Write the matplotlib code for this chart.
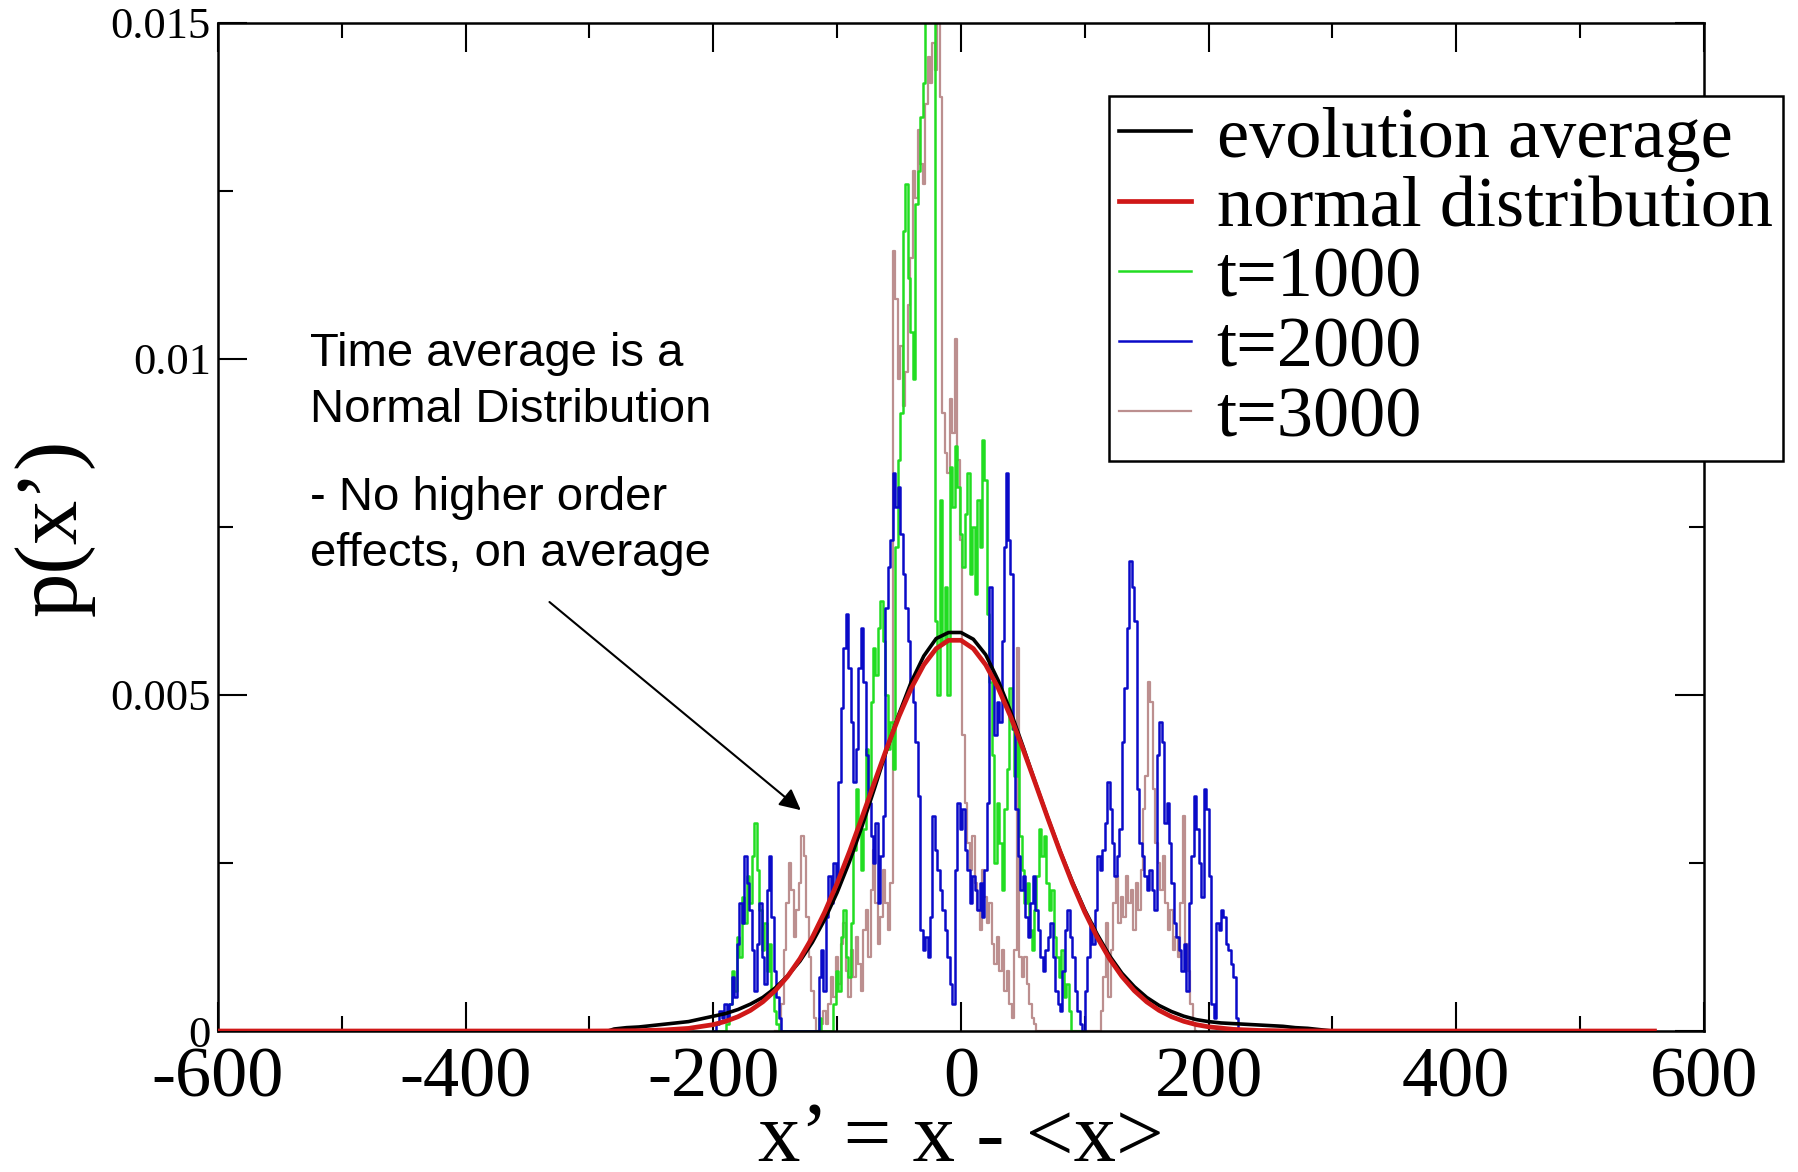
import matplotlib
matplotlib.use('Agg')
import matplotlib.pyplot as plt
from matplotlib.ticker import MultipleLocator

plt.rcParams['axes.unicode_minus'] = False
plt.rcParams['font.family'] = ['Liberation Serif', 'DejaVu Serif']

# ---------------- data ----------------
x_ticks = [-600, -400, -200, 0, 200, 400, 600]
y_ticks = [0, 0.005, 0.01, 0.015]
y_tick_labels = ['0', '0.005', '0.01', '0.015']

avg_x = [-600, -400, -300, -285, -280, -270, -260, -250, -240, -230,
         -220, -210, -200, -190, -180, -170, -160, -150, -140, -130,
         -120, -110, -100, -90, -80, -70, -60, -50, -40, -30,
         -20, -10, 0, 10, 20, 30, 40, 50, 60, 70,
         80, 90, 100, 110, 120, 130, 140, 150, 160, 170,
         180, 190, 200, 210, 220, 230, 240, 250, 260, 270,
         280, 290, 300, 400, 560]
avg_y = [0, 0, 0, 0, 3e-5, 5e-5, 6e-5, 8e-5, 1e-4, 1.2e-4,
         1.4e-4, 1.8e-4, 2.2e-4, 2.6e-4, 3.2e-4, 4e-4, 5e-4, 6.4e-4, 8.2e-4, 1.04e-3,
         1.32e-3, 1.66e-3, 2.06e-3, 2.52e-3, 3.04e-3, 3.6e-3, 4.18e-3, 4.72e-3, 5.2e-3, 5.58e-3,
         5.84e-3, 5.93e-3, 5.93e-3, 5.83e-3, 5.6e-3, 5.22e-3, 4.76e-3, 4.24e-3, 3.7e-3, 3.18e-3,
         2.68e-3, 2.22e-3, 1.8e-3, 1.44e-3, 1.12e-3, 8.6e-4, 6.6e-4, 5e-4, 3.8e-4, 2.9e-4,
         2.2e-4, 1.7e-4, 1.4e-4, 1.2e-4, 1.1e-4, 1e-4, 9e-5, 8e-5, 7e-5, 5e-5,
         4e-5, 2e-5, 0, 0, 0]

norm_x = [-600, -400, -300, -280, -260, -240, -220, -200,
          -190, -180, -170, -160, -150, -140, -130, -120, -110, -100,
          -90, -80, -70, -60, -50, -40, -30, -20, -10,
          0, 10, 20, 30, 40, 50, 60, 70, 80, 90,
          100, 110, 120, 130, 140, 150, 160, 170, 180, 190,
          200, 220, 240, 260, 280, 300, 400, 560]
norm_y = [0, 0, 0, 1.6e-6, 5.1e-6, 1.5e-5, 3.9e-5, 9.5e-5,
          1.44e-4, 2.13e-4, 3.07e-4, 4.34e-4, 6e-4, 8.12e-4, 1.076e-3, 1.395e-3, 1.77e-3, 2.197e-3,
          2.669e-3, 3.173e-3, 3.692e-3, 4.203e-3, 4.683e-3, 5.107e-3, 5.449e-3, 5.69e-3, 5.814e-3,
          5.814e-3, 5.69e-3, 5.449e-3, 5.107e-3, 4.683e-3, 4.203e-3, 3.692e-3, 3.173e-3, 2.669e-3, 2.197e-3,
          1.77e-3, 1.395e-3, 1.076e-3, 8.12e-4, 6e-4, 4.34e-4, 3.07e-4, 2.13e-4, 1.44e-4, 9.5e-5,
          6.2e-5, 2.45e-5, 8.9e-6, 2.9e-6, 1e-6, 0, 0, 0]

t1000_x = [-200, -192, -188, -186, -184, -182, -180, -178, -176, -174,
           -172, -170, -168, -166, -164, -162, -160, -158, -156, -154,
           -152, -150, -148, -146, -116, -114, -112, -104, -102, -100,
           -98, -96, -94, -92, -90, -88, -86, -84, -82, -80,
           -78, -76, -74, -72, -70, -68, -66, -64, -62, -60,
           -58, -56, -54, -52, -50, -48, -46, -44, -42, -40,
           -38, -36, -34, -32, -30, -28, -26, -24, -22, -20,
           -18, -16, -14, -12, -10, -8, -6, -4, -2, 0,
           2, 4, 6, 8, 10, 12, 14, 16, 18, 20,
           22, 24, 26, 28, 30, 32, 34, 36, 38, 40,
           42, 44, 46, 48, 50, 52, 54, 56, 58, 60,
           62, 64, 66, 68, 70, 72, 74, 76, 78, 80,
           82, 84, 86, 88, 90, 100]
t1000_y = [0, 0, 0.0001, 0.0004, 0.0009, 0.0006, 0.0014, 0.0011, 0.002, 0.0016,
           0.0023, 0.0019, 0.0026, 0.0031, 0.0024, 0.0018, 0.0012, 0.0016, 0.0009, 0.0013,
           0.0006, 0.0003, 0.0001, 0, 0, 0.0002, 0, 0, 0.0004, 0.0009,
           0.0006, 0.0014, 0.0018, 0.0011, 0.0008, 0.0016, 0.0027, 0.0036, 0.0031, 0.0024,
           0.003, 0.0042, 0.0036, 0.0049, 0.0057, 0.0053, 0.006, 0.0064, 0.0058, 0.005,
           0.0042, 0.0046, 0.0039, 0.0072, 0.0085, 0.0092, 0.0119, 0.0126, 0.0112, 0.0104,
           0.0097, 0.0123, 0.0128, 0.0136, 0.0141, 0.0158, 0.0165, 0.016, 0.0152, 0.0061,
           0.005, 0.0079, 0.0058, 0.0066, 0.005, 0.0084, 0.0078, 0.0087, 0.0081, 0.0074,
           0.0069, 0.0077, 0.0083, 0.0068, 0.0075, 0.0065, 0.0079, 0.0072, 0.0088, 0.0082,
           0.0062, 0.0052, 0.0041, 0.0025, 0.0034, 0.0028, 0.0021, 0.0033, 0.0039, 0.0051,
           0.0045, 0.0038, 0.0043, 0.0029, 0.0024, 0.0019, 0.0022, 0.0015, 0.0012, 0.0018,
           0.0023, 0.003, 0.0026, 0.0029, 0.0022, 0.0018, 0.0021, 0.0014, 0.0011, 0.0008,
           0.0012, 0.0005, 0.0007, 0.0003, 0, 0]

t2000_x = [-200, -196, -194, -192, -190, -188, -186, -184, -182, -180,
           -178, -176, -174, -172, -170, -168, -166, -164, -162, -160,
           -158, -156, -154, -152, -150, -148, -146, -144, -116, -114,
           -112, -110, -108, -106, -104, -102, -100, -98, -96, -94,
           -92, -90, -88, -86, -84, -82, -80, -78, -76, -74,
           -72, -70, -68, -66, -64, -62, -60, -58, -56, -54,
           -52, -50, -48, -46, -44, -42, -40, -38, -36, -34,
           -32, -30, -28, -26, -24, -22, -20, -18, -16, -14,
           -12, -10, -8, -6, -4, -2, 0, 2, 4, 6,
           8, 10, 12, 14, 16, 18, 20, 22, 24, 26,
           28, 30, 32, 34, 36, 37, 39, 41, 43, 45,
           47, 49, 51, 53, 55, 57, 59, 61, 63, 65,
           67, 69, 71, 73, 75, 77, 79, 81, 83, 85,
           87, 89, 91, 93, 95, 97, 99, 101, 103, 105,
           107, 109, 111, 113, 115, 117, 119, 121, 123, 125,
           127, 129, 131, 133, 135, 137, 139, 141, 143, 145,
           147, 149, 151, 153, 155, 157, 159, 161, 163, 165,
           167, 169, 171, 173, 175, 177, 179, 181, 183, 185,
           187, 189, 191, 193, 195, 197, 199, 201, 203, 205,
           207, 209, 211, 213, 215, 217, 219, 221, 223, 225,
           230]
t2000_y = [0, 0.0001, 0.0003, 0.0002, 0.0004, 0.0002, 0.0004, 0.0008, 0.0005, 0.0013,
           0.0019, 0.0016, 0.0026, 0.0022, 0.0018, 0.0012, 0.0006, 0.0013, 0.0019, 0.0011,
           0.0007, 0.0021, 0.0026, 0.0017, 0.0009, 0.0005, 0.0002, 0, 0, 0.0008,
           0.0012, 0.0006, 0.0017, 0.0023, 0.0019, 0.0025, 0.0022, 0.0037, 0.0048, 0.0057,
           0.0062, 0.0054, 0.0046, 0.0037, 0.0042, 0.0054, 0.006, 0.0052, 0.0041, 0.0034,
           0.0029, 0.0025, 0.0031, 0.0019, 0.0026, 0.0032, 0.0063, 0.0069, 0.0073, 0.0083,
           0.0078, 0.0081, 0.0074, 0.0068, 0.0063, 0.0058, 0.0052, 0.0049, 0.0043, 0.0035,
           0.0015, 0.0012, 0.0014, 0.0011, 0.0017, 0.0032, 0.0027, 0.0024, 0.0021, 0.0018,
           0.0015, 0.0011, 0.0007, 0.0004, 0.0024, 0.0034, 0.003, 0.0033, 0.0027, 0.0024,
           0.0019, 0.0023, 0.0021, 0.0018, 0.0022, 0.0017, 0.0024, 0.0034, 0.0066, 0.0053,
           0.0044, 0.0049, 0.0046, 0.0058, 0.0072, 0.0083, 0.0073, 0.0068, 0.0045, 0.0033,
           0.0026, 0.0021, 0.0023, 0.0017, 0.0014, 0.0019, 0.0023, 0.0018, 0.0015, 0.0011,
           0.0009, 0.0012, 0.0014, 0.0016, 0.0011, 0.0006, 0.0004, 0.0003, 0.0009, 0.0015,
           0.0018, 0.0014, 0.0011, 0.0006, 0.0003, 0.0001, 0, 0.0006, 0.0011, 0.0016,
           0.0013, 0.0018, 0.0026, 0.0024, 0.0027, 0.0031, 0.0037, 0.0033, 0.0028, 0.0023,
           0.0026, 0.003, 0.0043, 0.0051, 0.006, 0.007, 0.0066, 0.0061, 0.0036, 0.0028,
           0.0026, 0.0023, 0.0021, 0.0024, 0.0021, 0.0018, 0.0041, 0.0046, 0.0043, 0.0031,
           0.0034, 0.0028, 0.0022, 0.0016, 0.0014, 0.0012, 0.0009, 0.0013, 0.0006, 0.0019,
           0.0026, 0.0035, 0.003, 0.0025, 0.002, 0.0036, 0.0033, 0.0023, 0.0004, 0.0002,
           0.0016, 0.0015, 0.0018, 0.0017, 0.0013, 0.0012, 0.001, 0.0008, 0.0002, 0,
           0]

t3000_x = [-150, -146, -144, -142, -140, -138, -136, -134, -132, -130,
           -128, -126, -124, -122, -120, -118, -116, -112, -110, -108,
           -106, -104, -102, -100, -98, -96, -94, -92, -90, -88,
           -86, -84, -82, -80, -78, -76, -74, -72, -70, -68,
           -66, -64, -62, -60, -58, -56, -54, -52, -50, -48,
           -46, -44, -42, -40, -38, -36, -34, -32, -30, -28,
           -26, -24, -22, -20, -18, -16, -14, -12, -10, -8,
           -6, -4, -2, 0, 2, 4, 6, 8, 10, 12,
           14, 16, 18, 20, 22, 24, 26, 28, 30, 32,
           34, 36, 38, 40, 42, 44, 46, 48, 50, 52,
           54, 56, 58, 60, 62, 112, 114, 116, 118, 120,
           122, 124, 126, 128, 130, 132, 134, 136, 138, 140,
           142, 144, 146, 148, 150, 152, 154, 156, 158, 160,
           162, 164, 166, 168, 170, 172, 174, 176, 178, 180,
           182, 184, 186, 188, 190]
t3000_y = [0, 0, 0.0004, 0.0012, 0.0019, 0.0025, 0.0021, 0.0014, 0.0018, 0.0022,
           0.0029, 0.0026, 0.0017, 0.0011, 0.0006, 0.0002, 0, 0.0001, 0.0003, 0.0001,
           0.0004, 0.0008, 0.0005, 0.0011, 0.0007, 0.0013, 0.0016, 0.0009, 0.0005, 0.0012,
           0.0008, 0.0014, 0.001, 0.0006, 0.0015, 0.0018, 0.0011, 0.0021, 0.0027, 0.0019,
           0.0013, 0.0017, 0.0024, 0.0019, 0.0015, 0.0022, 0.0116, 0.0109, 0.0097, 0.0102,
           0.0093, 0.0098, 0.0108, 0.0115, 0.0128, 0.0124, 0.0134, 0.0129, 0.0126, 0.0138,
           0.0145, 0.0141, 0.0147, 0.0143, 0.015, 0.0139, 0.0092, 0.0086, 0.0083, 0.0094,
           0.0089, 0.0103, 0.0085, 0.0073, 0.0044, 0.0034, 0.0028, 0.0024, 0.0029, 0.0022,
           0.0018, 0.0015, 0.0024, 0.002, 0.0016, 0.0019, 0.0013, 0.001, 0.0014, 0.0009,
           0.0012, 0.0006, 0.0009, 0.0004, 0.0002, 0.0012, 0.0057, 0.0011, 0.0008, 0.0011,
           0.0007, 0.0004, 0.0002, 0.0001, 0, 0, 0.0003, 0.0008, 0.0016, 0.0005,
           0.0012, 0.0019, 0.0023, 0.0016, 0.002, 0.0017, 0.0023, 0.0019, 0.0021, 0.0015,
           0.0022, 0.0018, 0.0024, 0.0033, 0.0038, 0.0052, 0.0049, 0.0036, 0.0028, 0.0025,
           0.0021, 0.0026, 0.0019, 0.0015, 0.0018, 0.0012, 0.0014, 0.0011, 0.0019, 0.0032,
           0.0013, 0.0009, 0.0004, 0.0001, 0]

labels = ['evolution average', 'normal distribution', 't=1000', 't=2000', 't=3000']
colors = ['black', '#d01818', '#22dd22', '#0a0ac8', '#bc8f8f']

# ---------------- figure ----------------
fig = plt.figure(figsize=(17.98, 11.72), dpi=100)
ax = fig.add_axes([0.1212, 0.1203, 0.8265, 0.8601])

h_t3 = ax.plot(t3000_x, t3000_y, color=colors[4], lw=1.6, drawstyle='steps-mid', label=labels[4], zorder=2)[0]
h_t1 = ax.plot(t1000_x, t1000_y, color=colors[2], lw=1.8, drawstyle='steps-mid', label=labels[2], zorder=2.1)[0]
h_t2 = ax.plot(t2000_x, t2000_y, color=colors[3], lw=1.8, drawstyle='steps-mid', label=labels[3], zorder=2.2)[0]
h_avg = ax.plot(avg_x, avg_y, color=colors[0], lw=2.6, label=labels[0], zorder=3)[0]
h_norm = ax.plot(norm_x, norm_y, color=colors[1], lw=3.4, label=labels[1], zorder=3.1)[0]

ax.set_xlim(-600, 600)
ax.set_ylim(0, 0.015)
ax.set_xticks(x_ticks)
ax.xaxis.set_minor_locator(MultipleLocator(100))
ax.set_yticks(y_ticks, y_tick_labels)
ax.yaxis.set_minor_locator(MultipleLocator(0.0025))

ax.tick_params(which='both', direction='in', top=True, right=True, width=1.5, color='black')
ax.tick_params(which='major', length=21)
ax.tick_params(which='minor', length=11)
ax.tick_params(axis='x', which='major', labelsize=52, pad=11)
ax.tick_params(axis='y', which='major', labelsize=32, pad=5)
for sp in ax.spines.values():
    sp.set_linewidth(1.8)

ax.set_xlabel('x\u2019 = x - <x>', fontsize=61, va='baseline')
ax.xaxis.set_label_coords(0.5, -0.1290)
ax.set_ylabel('p(x\u2019)', fontsize=64, va='center')
ax.yaxis.set_label_coords(-0.110, 0.5)

leg = ax.legend(handles=[h_avg, h_norm, h_t1, h_t2, h_t3], loc='upper left',
                bbox_to_anchor=(1109 / 1798, 1 - 96 / 1172), bbox_transform=fig.transFigure,
                prop={'family': 'Liberation Serif', 'size': 52},
                handlelength=1.0, handletextpad=0.35, labelspacing=0.06,
                borderpad=0.14, borderaxespad=0, frameon=True, fancybox=False,
                edgecolor='black', framealpha=1)
leg.get_frame().set_linewidth(1.8)

ax.text(0.0619, 0.6042, 'Time average is a\nNormal Distribution', transform=ax.transAxes,
        fontsize=34, family='Liberation Sans', va='baseline', ha='left', linespacing=1.36)
ax.text(0.0619, 0.4613, '- No higher order\neffects, on average', transform=ax.transAxes,
        fontsize=34, family='Liberation Sans', va='baseline', ha='left', linespacing=1.36)
ax.annotate('', xy=(-127.6, 0.00326), xytext=(-334, 0.00641),
            arrowprops=dict(arrowstyle='-|>', color='black', lw=1.5, mutation_scale=32))

fig.savefig('out.png', dpi=100)
